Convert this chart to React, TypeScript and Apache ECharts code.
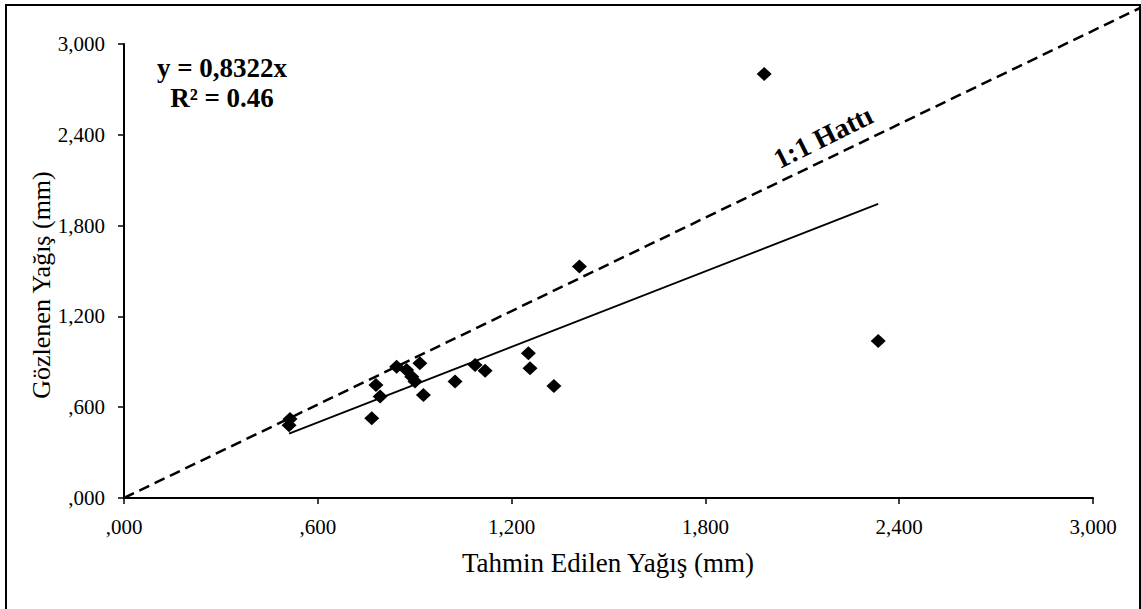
import React, { useEffect, useRef } from "react";
import * as echarts from "echarts";

// Predicted vs. observed precipitation (mm)
const predicted = [514, 511, 767, 780, 793, 844, 875, 891, 901, 916, 927, 1025, 1087, 1118, 1252, 1257, 1331, 1410, 1982, 2335];
const observed = [522, 480, 527, 747, 670, 868, 846, 802, 769, 890, 681, 769, 879, 841, 956, 857, 740, 1529, 2802, 1038];

// Regression through the origin
const slope = 0.8322;
const rSquared = "0.46";

// Reference line, drawn from the origin up to the frame corner
const oneToOneLine = [
  [0, 0],
  [3146, 3238],
];

const tickValues = [0, 600, 1200, 1800, 2400, 3000];
const tickLabels = [",000", ",600", "1,200", "1,800", "2,400", "3,000"];

const FONT = "'Liberation Serif', 'Times New Roman', serif";

export default function App() {
  const ref = useRef<HTMLDivElement>(null);

  useEffect(() => {
    if (!ref.current) return;
    const chart = echarts.init(ref.current, null, { renderer: "svg" });

    const points = predicted.map((x, i) => [x, observed[i]]);
    const xMin = Math.min(...predicted);
    const xMax = Math.max(...predicted);
    const trendLine = [
      [xMin, slope * xMin],
      [xMax, slope * xMax],
    ];

    const fmt = (v: number) => {
      const idx = tickValues.indexOf(v);
      return idx >= 0 ? tickLabels[idx] : "";
    };

    const axisCommon = {
      type: "value" as const,
      gridIndex: 0,
      min: 0,
      max: 3000,
      interval: 600,
      splitLine: { show: false },
      axisLine: { show: true, lineStyle: { color: "#000", width: 2 } },
      axisTick: { show: true, length: 6, lineStyle: { color: "#000", width: 1.5 } },
      axisLabel: {
        color: "#000",
        fontFamily: FONT,
        fontSize: 21,
        margin: 18,
        formatter: fmt,
      },
    };

    // Hidden axes on a wider grid with the same scale, so the 1:1 line
    // can run past the plot area to the corner of the frame.
    const overlayAxis = {
      type: "value" as const,
      gridIndex: 1,
      min: 0,
      show: false,
      splitLine: { show: false },
    };

    chart.setOption({
      animation: false,
      backgroundColor: "#fff",
      grid: [
        { left: 124, top: 44, right: 48, bottom: 111, containLabel: false },
        { left: 124, top: 8, right: 1, bottom: 111, containLabel: false },
      ],
      xAxis: [
        { ...axisCommon },
        { ...overlayAxis, max: oneToOneLine[1][0] },
      ],
      yAxis: [
        { ...axisCommon, axisLabel: { ...axisCommon.axisLabel, margin: 19 } },
        { ...overlayAxis, max: oneToOneLine[1][1] },
      ],
      graphic: [
        {
          type: "rect",
          shape: { x: 6, y: 5, width: 1134, height: 620 },
          style: { fill: "none", stroke: "#000", lineWidth: 2 },
          silent: true,
        },
        {
          type: "text",
          x: 222,
          y: 68,
          style: {
            text: "y = 0,8322x",
            font: `bold 27px ${FONT}`,
            fill: "#000",
            align: "center",
            verticalAlign: "middle",
          },
        },
        {
          type: "text",
          x: 222,
          y: 98,
          style: {
            text: `R² = ${rSquared}`,
            font: `bold 27px ${FONT}`,
            fill: "#000",
            align: "center",
            verticalAlign: "middle",
          },
        },
        {
          type: "text",
          x: 823,
          y: 137,
          rotation: (26.5 * Math.PI) / 180,
          style: {
            text: "1:1 Hattı",
            font: `bold 28px ${FONT}`,
            fill: "#000",
            align: "center",
            verticalAlign: "middle",
          },
        },
        {
          type: "text",
          x: 608,
          y: 563,
          style: {
            text: "Tahmin Edilen Yağış (mm)",
            font: `27px ${FONT}`,
            fill: "#000",
            align: "center",
            verticalAlign: "middle",
          },
        },
        {
          type: "text",
          x: 41,
          y: 285,
          rotation: Math.PI / 2,
          style: {
            text: "Gözlenen Yağış (mm)",
            font: `26px ${FONT}`,
            fill: "#000",
            align: "center",
            verticalAlign: "middle",
          },
        },
      ],
      series: [
        {
          type: "line",
          xAxisIndex: 1,
          yAxisIndex: 1,
          data: oneToOneLine,
          symbol: "none",
          lineStyle: { color: "#000", width: 2.5, type: [11, 6] },
          z: 2,
        },
        {
          type: "line",
          xAxisIndex: 0,
          yAxisIndex: 0,
          data: trendLine,
          symbol: "none",
          lineStyle: { color: "#000", width: 1.8 },
          z: 2,
        },
        {
          type: "scatter",
          xAxisIndex: 0,
          yAxisIndex: 0,
          data: points,
          symbol: "diamond",
          symbolSize: [15, 14],
          itemStyle: { color: "#000", opacity: 1 },
          z: 3,
        },
      ],
    });

    return () => chart.dispose();
  }, []);

  return (
    <div
      ref={ref}
      style={{ position: "fixed", left: 0, top: 0, width: 1141, height: 609 }}
    />
  );
}
